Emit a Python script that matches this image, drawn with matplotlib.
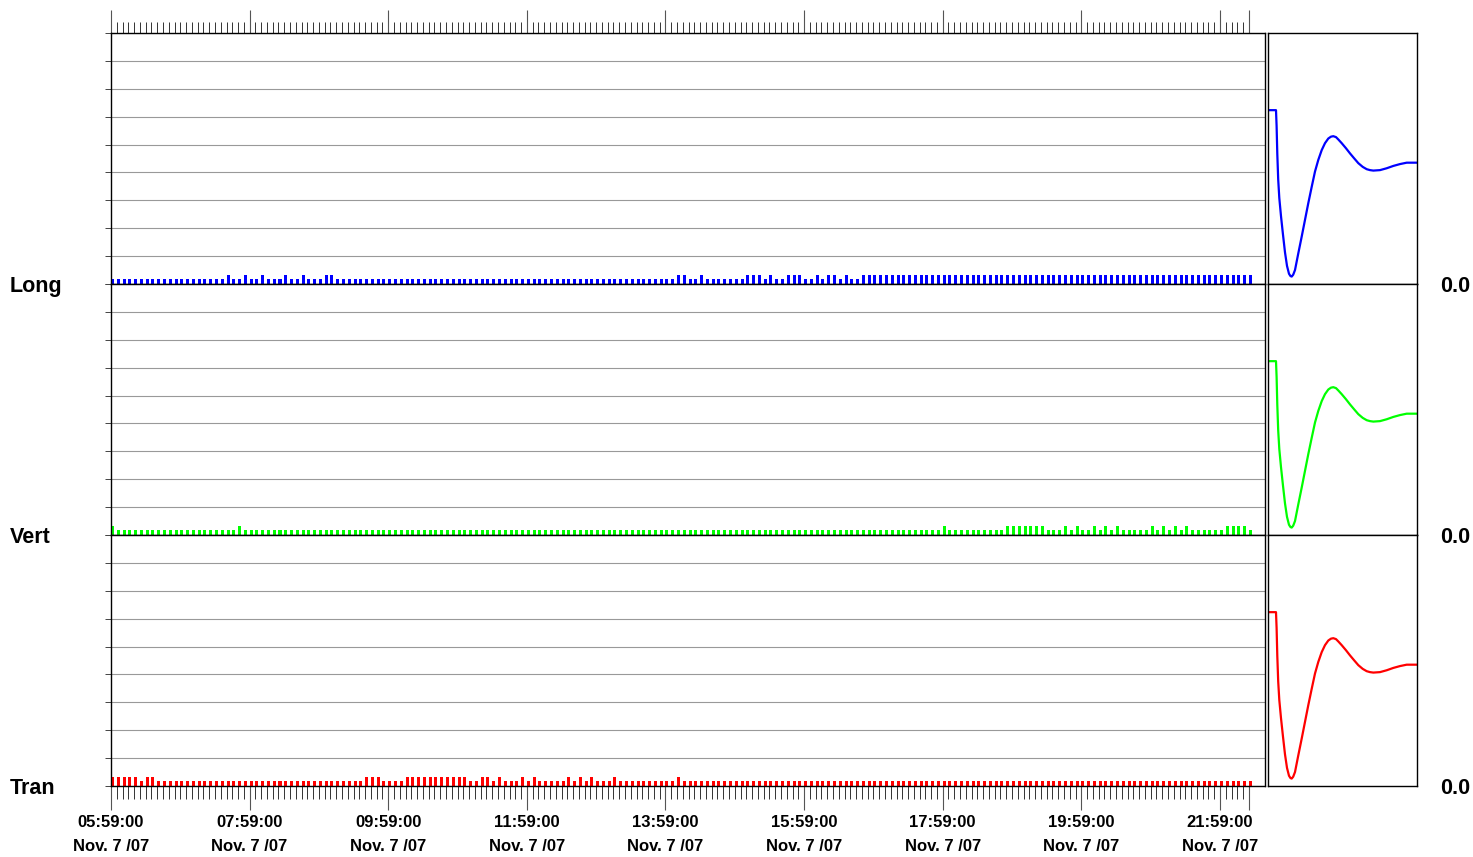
import matplotlib.pyplot as plt

plt.rcParams['font.family'] = ['Liberation Sans', 'DejaVu Sans']
plt.rcParams['font.weight'] = 'bold'

row_names = ['Long', 'Vert', 'Tran']
row_colors = ['#0000ff', '#00ff00', '#ff0000']

# one sample every 5 minutes starting 05:59 (1 = low level, 2 = high level)
sample_step = 5
long_vals = [
    1, 1, 1, 1, 1, 1, 1, 1, 1, 1, 1, 1, 1, 1, 1, 1, 1, 1, 1, 1,
    2, 1, 1, 2, 1, 1, 2, 1, 1, 1, 2, 1, 1, 2, 1, 1, 1, 2, 2, 1,
    1, 1, 1, 1, 1, 1, 1, 1, 1, 1, 1, 1, 1, 1, 1, 1, 1, 1, 1, 1,
    1, 1, 1, 1, 1, 1, 1, 1, 1, 1, 1, 1, 1, 1, 1, 1, 1, 1, 1, 1,
    1, 1, 1, 1, 1, 1, 1, 1, 1, 1, 1, 1, 1, 1, 1, 1, 1, 1, 2, 2,
    1, 1, 2, 1, 1, 1, 1, 1, 1, 1, 2, 2, 2, 1, 2, 1, 1, 2, 2, 2,
    1, 1, 2, 1, 2, 2, 1, 2, 1, 1, 2, 2, 2, 2, 2, 2, 2, 2, 2, 2,
    2, 2, 2, 2, 2, 2, 2, 2, 2, 2, 2, 2, 2, 2, 2, 2, 2, 2, 2, 2,
    2, 2, 2, 2, 2, 2, 2, 2, 2, 2, 2, 2, 2, 2, 2, 2, 2, 2, 2, 2,
    2, 2, 2, 2, 2, 2, 2, 2, 2, 2, 2, 2, 2, 2, 2, 2, 2, 2,
]
vert_vals = [
    2, 1, 1, 1, 1, 1, 1, 1, 1, 1, 1, 1, 1, 1, 1, 1, 1, 1, 1, 1,
    1, 1, 2, 1, 1, 1, 1, 1, 1, 1, 1, 1, 1, 1, 1, 1, 1, 1, 1, 1,
    1, 1, 1, 1, 1, 1, 1, 1, 1, 1, 1, 1, 1, 1, 1, 1, 1, 1, 1, 1,
    1, 1, 1, 1, 1, 1, 1, 1, 1, 1, 1, 1, 1, 1, 1, 1, 1, 1, 1, 1,
    1, 1, 1, 1, 1, 1, 1, 1, 1, 1, 1, 1, 1, 1, 1, 1, 1, 1, 1, 1,
    1, 1, 1, 1, 1, 1, 1, 1, 1, 1, 1, 1, 1, 1, 1, 1, 1, 1, 1, 1,
    1, 1, 1, 1, 1, 1, 1, 1, 1, 1, 1, 1, 1, 1, 1, 1, 1, 1, 1, 1,
    1, 1, 1, 1, 2, 1, 1, 1, 1, 1, 1, 1, 1, 1, 1, 2, 2, 2, 2, 2,
    2, 2, 1, 1, 1, 2, 1, 2, 1, 1, 2, 1, 2, 1, 2, 1, 1, 1, 1, 1,
    2, 1, 2, 1, 2, 1, 2, 1, 1, 1, 1, 1, 1, 2, 2, 2, 2, 1,
]
tran_vals = [
    2, 2, 2, 2, 2, 1, 2, 2, 1, 1, 1, 1, 1, 1, 1, 1, 1, 1, 1, 1,
    1, 1, 1, 1, 1, 1, 1, 1, 1, 1, 1, 1, 1, 1, 1, 1, 1, 1, 1, 1,
    1, 1, 1, 1, 2, 2, 2, 1, 1, 1, 1, 2, 2, 2, 2, 2, 2, 2, 2, 2,
    2, 2, 1, 1, 2, 2, 1, 2, 1, 1, 1, 2, 1, 2, 1, 1, 1, 1, 1, 2,
    1, 2, 1, 2, 1, 1, 1, 2, 1, 1, 1, 1, 1, 1, 1, 1, 1, 1, 2, 1,
    1, 1, 1, 1, 1, 1, 1, 1, 1, 1, 1, 1, 1, 1, 1, 1, 1, 1, 1, 1,
    1, 1, 1, 1, 1, 1, 1, 1, 1, 1, 1, 1, 1, 1, 1, 1, 1, 1, 1, 1,
    1, 1, 1, 1, 1, 1, 1, 1, 1, 1, 1, 1, 1, 1, 1, 1, 1, 1, 1, 1,
    1, 1, 1, 1, 1, 1, 1, 1, 1, 1, 1, 1, 1, 1, 1, 1, 1, 1, 1, 1,
    1, 1, 1, 1, 1, 1, 1, 1, 1, 1, 1, 1, 1, 1, 1, 1, 1, 1,
]
row_vals = [long_vals, vert_vals, tran_vals]

# x axis in minutes after 05:59
major_minutes = [0, 120, 240, 360, 480, 600, 720, 840, 960, 985]
major_labels = ['05:59:00\nNov. 7 /07', '07:59:00\nNov. 7 /07', '09:59:00\nNov. 7 /07',
                '11:59:00\nNov. 7 /07', '13:59:00\nNov. 7 /07', '15:59:00\nNov. 7 /07',
                '17:59:00\nNov. 7 /07', '19:59:00\nNov. 7 /07', '21:59:00\nNov. 7 /07', '']
x_end = 999

# response curve drawn in the right panel of each row
resp_x = [0, 8, 8.6, 9.3, 10.2, 11.3, 13, 15, 17, 19, 21, 22.5, 23.7, 25.2, 27, 30.3,
          33.7, 37, 40.3, 43.7, 47, 50.3, 53.7, 57, 60.3, 63, 65.3, 68, 70.3, 73.7, 78,
          82, 86.3, 90.3, 94.7, 98.7, 102, 105.3, 112, 118.7, 125.3, 132, 138.7, 149]
resp_y = [37.4, 37.4, 34.0, 28.0, 22.5, 18.5, 14.6, 10.6, 6.8, 3.9, 2.2, 1.7, 1.6, 2.0,
          3.0, 6.6, 10.2, 13.8, 17.4, 20.9, 24.2, 26.7, 28.8, 30.3, 31.3, 31.7, 31.8,
          31.6, 31.1, 30.3, 29.2, 28.1, 27.0, 26.0, 25.2, 24.7, 24.5, 24.4, 24.5, 24.9,
          25.4, 25.8, 26.1, 26.1]

W, H = 1473, 857
fig = plt.figure(figsize=(W / 100, H / 100), dpi=100)

row_top = [33, 284, 535]
row_h = 251
for i in range(3):
    y0 = 1 - (row_top[i] + row_h) / H
    ax = fig.add_axes([111 / W, y0, (1265 - 111) / W, row_h / H])
    vals = row_vals[i]
    xs = [k * sample_step for k in range(len(vals))]
    ax.bar(xs, vals, width=2.6, align='edge', color=row_colors[i], linewidth=0, zorder=2)
    ax.set_xlim(0, x_end)
    ax.set_ylim(0, 54)
    ax.set_yticks(range(0, 55, 6))
    ax.set_yticklabels([])
    ax.tick_params(axis='y', length=4.5, width=0.7, color='#444444')
    ax.grid(axis='y', color='#999999', linewidth=0.8, zorder=0)
    for sp in ax.spines.values():
        sp.set_linewidth(1.0)
        sp.set_color('black')
    ax.set_xticks(major_minutes)
    ax.set_xticks(range(0, 986, 5), minor=True)
    if i == 0:
        ax.xaxis.tick_top()
        ax.tick_params(axis='x', which='major', length=16.5, width=0.8, color='#555555', labeltop=False)
        ax.tick_params(axis='x', which='minor', length=8, width=0.7, color='#333333')
    elif i == 2:
        ax.tick_params(axis='x', which='major', length=17, width=0.8, color='#555555', pad=4)
        ax.tick_params(axis='x', which='minor', length=9, width=0.7, color='#333333')
        labels = ax.set_xticklabels(major_labels, fontsize=12, fontweight='bold')
        for lb in labels:
            lb.set_linespacing(1.75)
    else:
        ax.tick_params(axis='x', which='both', length=0, labelbottom=False)

    base_y = 1 - (row_top[i] + row_h + 8) / H
    fig.text(10 / W, base_y, row_names[i], fontsize=15.5,
             fontweight='bold', ha='left', va='baseline')
    fig.text(1440 / W, base_y, '0.0', fontsize=15.5,
             fontweight='bold', ha='left', va='baseline')

    axr = fig.add_axes([1268 / W, y0, (1417 - 1268) / W, row_h / H])
    axr.plot(resp_x, resp_y, color=row_colors[i], linewidth=1.6)
    axr.set_xlim(0, 149)
    axr.set_ylim(0, 54)
    axr.set_xticks([])
    axr.set_yticks([])
    for sp in axr.spines.values():
        sp.set_linewidth(1.0)
        sp.set_color('black')

fig.savefig('out.png', dpi=100)
